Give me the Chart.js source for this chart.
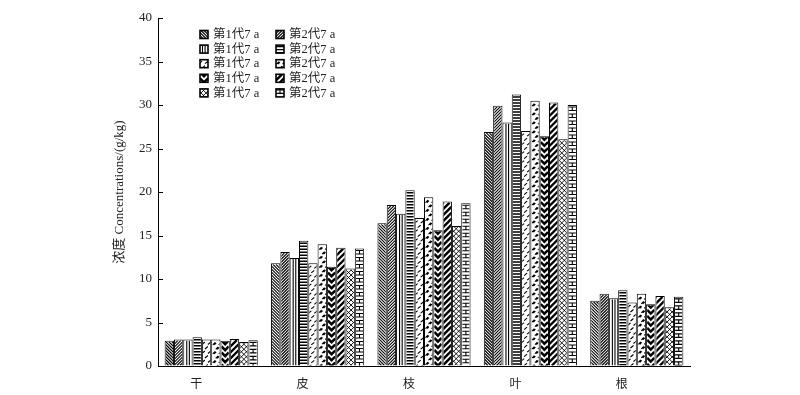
<!DOCTYPE html>
<html>
<head>
<meta charset="utf-8">
<script src="https://cdn.jsdelivr.net/npm/chart.js@4"></script>
<style>
  body { margin: 0; background: #fff; }
  #wrap { width: 800px; height: 395px; }
</style>
</head>
<body>
<div id="wrap"><canvas id="chart" width="800" height="395"></canvas></div>
<script>
// 部位
const categories = ['干', '皮', '枝', '叶', '根'];
const seriesLabels = ['第1代7 a', '第2代7 a', '第1代7 a', '第2代7 a', '第1代7 a',
                      '第2代7 a', '第1代7 a', '第2代7 a', '第1代7 a', '第2代7 a'];

// 浓度 g/kg, order: 干 皮 枝 叶 根
const s1 = [2.9, 11.8, 16.4, 26.9, 7.5];
const s2 = [3.05, 13.1, 18.5, 29.9, 8.3];
const s3 = [3.05, 12.4, 17.5, 28.0, 7.8];
const s4 = [3.3, 14.4, 20.2, 31.2, 8.7];
const s5 = [3.05, 11.8, 17.0, 27.0, 7.3];
const s6 = [3.05, 14.0, 19.4, 30.5, 8.3];
const s7 = [2.9, 11.4, 15.6, 26.4, 7.1];
const s8 = [3.1, 13.6, 18.9, 30.3, 8.05];
const s9 = [2.75, 11.2, 16.1, 26.05, 6.75];
const s10 = [2.95, 13.5, 18.7, 30.0, 7.95];
const seriesValues = [s1, s2, s3, s4, s5, s6, s7, s8, s9, s10];

const serif = "'Liberation Serif', 'Noto Sans CJK SC', serif";

// fill patterns, drawn in a w x h box starting at 0,0
function line(ctx, x1, y1, x2, y2) {
    ctx.moveTo(x1, y1);
    ctx.lineTo(x2, y2);
}
const patterns = [
    // 1 dense backslash
    (ctx, w, h) => {
        ctx.lineWidth = 1.1; ctx.beginPath();
        for (let k = -h; k < w + 3; k += 3) line(ctx, k, 0, k + h, h);
        ctx.stroke();
    },
    // 2 dense slash
    (ctx, w, h) => {
        ctx.lineWidth = 1.1; ctx.beginPath();
        for (let k = 0; k < w + h + 3; k += 3) line(ctx, k, 0, k - h, h);
        ctx.stroke();
    },
    // 3 vertical
    (ctx, w, h) => {
        ctx.lineWidth = 1.1; ctx.beginPath();
        for (let x = 2.5; x < w - 1; x += 2.6) line(ctx, x, 0, x, h);
        ctx.stroke();
    },
    // 4 horizontal
    (ctx, w, h) => {
        ctx.lineWidth = 1.4; ctx.beginPath();
        for (let y = 1.5; y < h; y += 3) line(ctx, 0, y, w, y);
        ctx.stroke();
    },
    // 5 small dashes
    (ctx, w, h) => {
        ctx.lineWidth = 1.1; ctx.beginPath();
        for (let r = 0, y = 3; y < h + 3; r++, y += 4.5) {
            for (let x = (r % 2) * 3 - 1; x < w; x += 6) line(ctx, x, y + 1, x + 3, y - 1.5);
        }
        ctx.stroke();
    },
    // 6 small dashes (variant)
    (ctx, w, h) => {
        ctx.lineWidth = 1.1; ctx.beginPath();
        for (let r = 0, y = 3; y < h + 3; r++, y += 4.5) {
            for (let x = (r % 2) * 3 + 0.5; x < w; x += 6) {
                line(ctx, x, y + 1.5, x + 2.5, y - 1);
                line(ctx, x + 1.5, y + 1.5, x + 3.5, y - 0.5);
            }
        }
        ctx.stroke();
    },
    // 7 chevron
    (ctx, w, h) => {
        ctx.lineWidth = 2.5; ctx.beginPath();
        for (let y = -w; y < h + 2; y += 6) {
            ctx.moveTo(0, y);
            ctx.lineTo(w / 2, y + w / 2);
            ctx.lineTo(w, y);
        }
        ctx.stroke();
    },
    // 8 thick slash
    (ctx, w, h) => {
        ctx.lineWidth = 2.4; ctx.beginPath();
        for (let k = 0; k < w + h + 6; k += 6) line(ctx, k, 0, k - h, h);
        ctx.stroke();
    },
    // 9 lattice
    (ctx, w, h) => {
        ctx.lineWidth = 0.9; ctx.beginPath();
        for (let k = -h; k < w + 5; k += 5) line(ctx, k, 0, k + h, h);
        for (let k = 0; k < w + h + 5; k += 5) line(ctx, k, 0, k - h, h);
        ctx.stroke();
    },
    // 10 brick
    (ctx, w, h) => {
        ctx.lineWidth = 1.1; ctx.beginPath();
        for (let r = 0, y = 1; y < h; r++, y += 3.5) {
            line(ctx, 0, y, w, y);
            if (r % 2 === 0) line(ctx, w / 2, y, w / 2, y + 3.5);
        }
        ctx.stroke();
    }
];

// Патерны внутри столбиков
const barPatterns = {
    id: 'barPatterns',
    afterDatasetsDraw(chart) {
        const ctx = chart.ctx;
        chart.data.datasets.forEach((ds, i) => {
            const meta = chart.getDatasetMeta(i);
            meta.data.forEach(bar => {
                const p = bar.getProps(['x', 'y', 'base', 'width'], true);
                const left = p.x - p.width / 2;
                const top = Math.min(p.y, p.base);
                const h = Math.abs(p.base - p.y);
                ctx.save();
                ctx.beginPath();
                ctx.rect(left + 1, top + 1, p.width - 2, h - 1);
                ctx.clip();
                ctx.translate(left + 1, top + 1);
                ctx.strokeStyle = '#000';
                patterns[i](ctx, p.width - 2, h - 1);
                ctx.restore();
            });
        });
    }
};

// inward ticks on the y axis
const innerTicks = {
    id: 'innerTicks',
    afterDraw(chart) {
        const ctx = chart.ctx;
        const ys = chart.scales.y;
        ctx.save();
        ctx.strokeStyle = '#000';
        ctx.lineWidth = 1;
        ctx.beginPath();
        ys.ticks.forEach((t, i) => {
            const py = Math.round(ys.getPixelForTick(i)) + 0.5;
            ctx.moveTo(ys.right, py);
            ctx.lineTo(ys.right + 5, py);
        });
        ctx.stroke();
        ctx.restore();
    }
};

// two-column legend
const gridLegend = {
    id: 'gridLegend',
    afterDraw(chart) {
        const ctx = chart.ctx;
        ctx.save();
        ctx.font = '12.5px ' + serif;
        ctx.textBaseline = 'middle';
        ctx.fillStyle = '#222';
        chart.data.datasets.forEach((ds, i) => {
            const col = i % 2, row = Math.floor(i / 2);
            const bx = 200 + col * 76;
            const by = 34.5 + row * 14.6;
            ctx.save();
            ctx.fillStyle = '#fff';
            ctx.fillRect(bx, by - 4, 8, 8);
            ctx.beginPath();
            ctx.rect(bx, by - 4, 8, 8);
            ctx.clip();
            ctx.translate(bx, by - 4);
            ctx.strokeStyle = '#000';
            patterns[i](ctx, 8, 8);
            ctx.restore();
            ctx.strokeStyle = '#000';
            ctx.lineWidth = 1.6;
            ctx.strokeRect(bx, by - 4, 8, 8);
            ctx.fillText(ds.label, bx + 13, by + 0.5);
        });
        ctx.restore();
    }
};

const datasets = seriesValues.map((vals, i) => ({
    label: seriesLabels[i],
    data: vals,
    backgroundColor: '#fff',
    borderColor: '#000',
    borderWidth: 1,
    categoryPercentage: 0.875,
    barPercentage: 1.0
}));

new Chart(document.getElementById('chart').getContext('2d'), {
    type: 'bar',
    data: { labels: categories, datasets: datasets },
    options: {
        responsive: false,
        animation: false,
        devicePixelRatio: 1,
        layout: { padding: { left: 110, right: 110, top: 18, bottom: 0 } },
        plugins: {
            legend: { display: false },
            tooltip: { enabled: false }
        },
        scales: {
            x: {
                grid: { display: false },
                border: { display: true, color: '#000', width: 1 },
                ticks: {
                    color: '#222',
                    font: { family: "'Noto Sans CJK SC', sans-serif", size: 12 },
                    padding: 2,
                    labelOffset: -15
                },
                afterFit: s => { s.height = 29; }
            },
            y: {
                min: 0,
                max: 40,
                grid: { drawOnChartArea: false, drawTicks: false },
                border: { display: true, color: '#000', width: 1 },
                ticks: {
                    stepSize: 5,
                    color: '#222',
                    font: { family: serif, size: 13 },
                    padding: 6
                },
                title: {
                    display: true,
                    text: '浓度 Concentrations/(g/kg)',
                    color: '#222',
                    font: { family: serif, size: 13 },
                    padding: 2
                },
                afterFit: s => { s.width = 48; }
            }
        }
    },
    plugins: [barPatterns, innerTicks, gridLegend]
});
</script>
</body>
</html>
